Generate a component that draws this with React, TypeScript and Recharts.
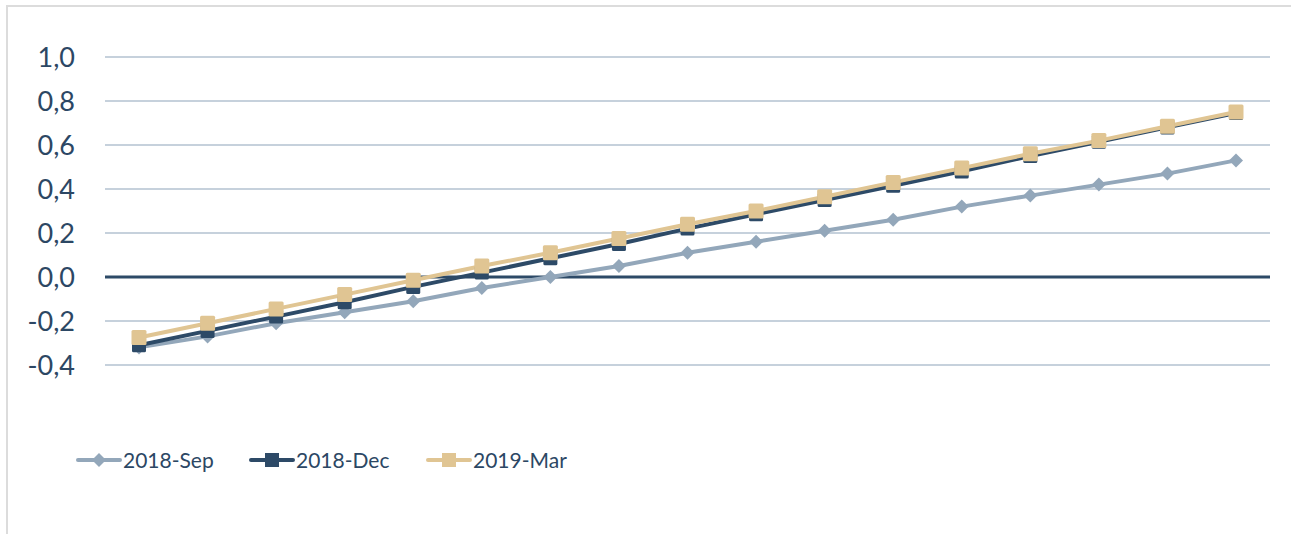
import React from "react";
import { LineChart, Line, XAxis, YAxis, CartesianGrid, ReferenceLine } from "recharts";

const points = ["1", "2", "3", "4", "5", "6", "7", "8", "9", "10", "11", "12", "13", "14", "15", "16", "17"];
const sep2018 = [-0.32, -0.27, -0.21, -0.16, -0.11, -0.05, 0.0, 0.05, 0.11, 0.16, 0.21, 0.26, 0.32, 0.37, 0.42, 0.47, 0.53];
const dec2018 = [-0.31, -0.245, -0.18, -0.115, -0.045, 0.02, 0.085, 0.15, 0.22, 0.285, 0.35, 0.415, 0.48, 0.55, 0.615, 0.68, 0.745];
const mar2019 = [-0.275, -0.21, -0.145, -0.08, -0.015, 0.05, 0.11, 0.175, 0.24, 0.3, 0.365, 0.43, 0.495, 0.56, 0.62, 0.685, 0.75];
const yTicks = [-0.4, -0.2, 0, 0.2, 0.4, 0.6, 0.8, 1.0];

const data = points.map((p, i) => ({ p, sep: sep2018[i], dec: dec2018[i], mar: mar2019[i] }));

const SEP = "#93a7ba";
const DEC = "#2d4a67";
const MAR = "#e0c593";
const TEXT = "#2c4764";

const Diamond = (props: any) => {
  const { cx, cy, fill } = props;
  if (cx == null || cy == null) return null;
  const r = 7;
  return <path d={`M${cx},${cy - r}L${cx + r},${cy}L${cx},${cy + r}L${cx - r},${cy}Z`} fill={fill} />;
};

const Square = (size: number) => (props: any) => {
  const { cx, cy, fill } = props;
  if (cx == null || cy == null) return null;
  return <rect x={cx - size / 2} y={cy - size / 2} width={size} height={size} rx={1.5} fill={fill} />;
};

const legendItems = [
  { name: "2018-Sep", color: SEP, shape: "diamond", left: 76 },
  { name: "2018-Dec", color: DEC, shape: "square", left: 249 },
  { name: "2019-Mar", color: MAR, shape: "square", left: 426 },
];

const ChartLegend = () => (
  <>
    {legendItems.map((it) => (
      <div key={it.name} style={{ position: "absolute", left: it.left, top: 448, display: "flex", alignItems: "center" }}>
        <svg width={46} height={24}>
          <line x1={2} y1={12} x2={44} y2={12} stroke={it.color} strokeWidth={4} strokeLinecap="round" />
          {it.shape === "diamond" ? (
            <path d="M23,5L30,12L23,19L16,12Z" fill={it.color} />
          ) : (
            <rect x={16} y={5} width={14} height={14} fill={it.color} />
          )}
        </svg>
        <span style={{ fontSize: 21, color: TEXT, marginLeft: 1, lineHeight: "24px" }}>{it.name}</span>
      </div>
    ))}
  </>
);

export default function App() {
  return (
    <div style={{ position: "absolute", left: 0, top: 0, width: 1291, height: 534, overflow: "hidden", background: "#fff", fontFamily: "Lato, sans-serif" }}>
      <div style={{ position: "absolute", left: 6, top: 5, width: 1300, height: 540, borderTop: "2px solid #dcdcdc", borderLeft: "2px solid #dcdcdc" }} />
      <div style={{ position: "absolute", left: 0, top: 0 }}>
        <LineChart width={1291} height={534} data={data} margin={{ top: 57, right: 21, bottom: 169, left: 0 }}>
          <CartesianGrid vertical={false} stroke="#c6d1dc" strokeWidth={2} />
          <XAxis dataKey="p" hide padding={{ left: 34, right: 34 }} />
          <YAxis
            width={105}
            domain={[-0.4, 1.0]}
            ticks={yTicks}
            axisLine={false}
            tickLine={false}
            tickSize={0}
            tickMargin={30}
            interval={0}
            tickFormatter={(v: number) => v.toFixed(1).replace(".", ",")}
            tick={{ fontSize: 27, fill: TEXT, fontFamily: "Lato, sans-serif" }}
          />
          <ReferenceLine y={0} stroke={DEC} strokeWidth={3} />
          <Line dataKey="sep" name="2018-Sep" stroke={SEP} strokeWidth={4} dot={<Diamond fill={SEP} />} activeDot={false} isAnimationActive={false} />
          <Line dataKey="dec" name="2018-Dec" stroke={DEC} strokeWidth={4} dot={Square(14)} fill={DEC} activeDot={false} isAnimationActive={false} />
          <Line dataKey="mar" name="2019-Mar" stroke={MAR} strokeWidth={4} dot={Square(15)} fill={MAR} activeDot={false} isAnimationActive={false} />
        </LineChart>
      </div>
      <ChartLegend />
    </div>
  );
}
